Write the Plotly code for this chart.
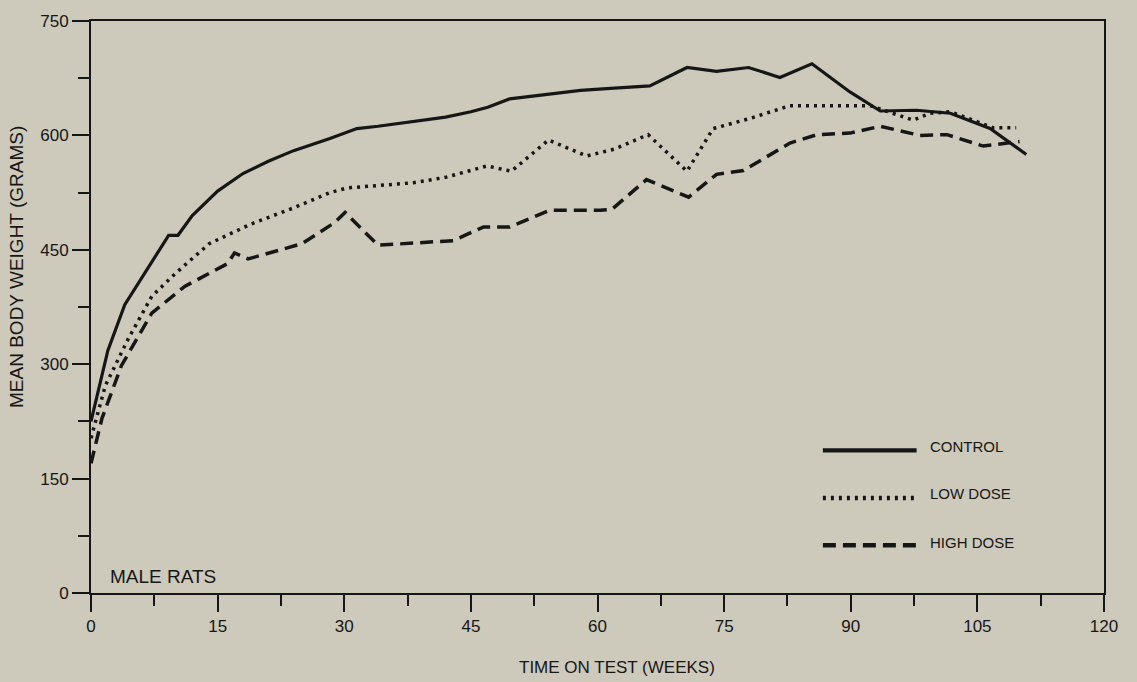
import plotly.graph_objects as go

# ---- data ----
control_weeks = [0, 2, 4, 6, 8, 9.2, 10.3, 12, 15, 18, 21, 24, 28.3, 31.5, 34, 38, 42, 45, 47, 49.6,
                 54, 58, 62, 66.2, 70.6, 74.1, 77.9, 81.6, 85.4, 89.9, 93.5, 97.8, 101.8, 106.5, 110.8]
control_vals = [225, 318, 378, 413, 447, 469, 469, 495, 527, 550, 566, 580, 596, 609, 612, 618, 624, 631, 637, 648,
                654, 659, 662, 665, 689, 684, 689, 676, 694, 657, 632, 633, 629, 609, 575]

low_weeks = [0, 1.7, 4.4, 7.2, 10, 14, 19, 24, 28.3, 30.3, 38.2, 42, 46.9, 49.8, 54.2, 58.7, 62, 66,
             70.6, 73.7, 78, 82.8, 89.9, 92.3, 97.4, 99.4, 101.8, 106.9, 109.6]
low_vals = [203, 272, 333, 389, 419, 458, 484, 505, 525, 531, 538, 545, 560, 553, 594, 573, 582, 601,
            553, 609, 622, 639, 639, 639, 620, 629, 631, 610, 610]

high_weeks = [0, 1.3, 3.6, 7.2, 11.1, 16.2, 17, 18.6, 25, 28.9, 30.1, 34, 42.9, 46.5, 49.6, 54.4, 60.3,
              61.7, 65.8, 70.8, 74.1, 77.3, 82.8, 86, 89.9, 93.5, 98.2, 101.4, 105.7, 107.3, 110]
high_vals = [170, 229, 298, 367, 402, 432, 446, 438, 458, 486, 499, 456, 462, 480, 480, 502, 502,
             503, 542, 519, 549, 554, 590, 601, 603, 612, 600, 601, 586, 588, 592]

series_names = ["CONTROL", "LOW DOSE", "HIGH DOSE"]
x_ticks = [0, 15, 30, 45, 60, 75, 90, 105, 120]
y_ticks = [0, 150, 300, 450, 600, 750]

# ---- styling ----
INK = "#161616"
BG = "#cdc9bb"
FONT = "Liberation Sans, Arial, Helvetica, sans-serif"
styles = [
    dict(width=3.2, dash="solid"),
    dict(width=3.5, dash="3px,5px"),
    dict(width=3.5, dash="13px,7px"),
]

fig = go.Figure()
for (xs, ys), name, st in zip([(control_weeks, control_vals), (low_weeks, low_vals), (high_weeks, high_vals)],
                              series_names, styles):
    fig.add_trace(go.Scatter(x=xs, y=ys, mode="lines", name=name, showlegend=False,
                             line=dict(color=INK, width=st["width"], dash=st["dash"], shape="linear")))

# legend drawn as keys + labels inside the plot
legend_y_line = [187, 124.5, 62.5]
legend_y_text = [192, 130, 66]
for name, st, yl, yt in zip(series_names, styles, legend_y_line, legend_y_text):
    fig.add_shape(type="line", xref="x", yref="y", x0=86.7, x1=97.8, y0=yl, y1=yl,
                  line=dict(color=INK, width=st["width"] + 1, dash=st["dash"]))
    fig.add_annotation(x=99.1, y=yt, xref="x", yref="y", text=name, showarrow=False,
                       xanchor="left", yanchor="middle", font=dict(family=FONT, size=15, color=INK))

fig.add_annotation(x=2.0, y=22, xref="x", yref="y", text="MALE RATS", showarrow=False,
                   xanchor="left", yanchor="middle", font=dict(family=FONT, size=19, color=INK))

# axis titles as annotations for exact placement
fig.add_annotation(x=(617 - 91) / 1013, y=-(668 - 593) / 579, xref="paper", yref="paper",
                   text="TIME ON TEST (WEEKS)", showarrow=False, xanchor="center", yanchor="middle",
                   font=dict(family=FONT, size=17, color=INK))
fig.add_annotation(x=-(91 - 17) / 1013, y=(593 - 263) / 579, xref="paper", yref="paper",
                   text="MEAN BODY WEIGHT (GRAMS)", showarrow=False, textangle=-90,
                   xanchor="center", yanchor="middle", font=dict(family=FONT, size=19, color=INK))

axis_common = dict(showgrid=False, zeroline=False, showline=True, linecolor=INK, linewidth=2,
                   mirror=True, ticks="outside", tickcolor=INK, tickwidth=2, ticklen=17,
                   tickfont=dict(family=FONT, size=17, color=INK))
fig.update_xaxes(range=[0, 120], tickvals=x_ticks, ticktext=[str(v) for v in x_ticks],
                 minor=dict(ticks="outside", dtick=7.5, tick0=0, ticklen=11, tickwidth=2, tickcolor=INK),
                 **axis_common)
fig.update_yaxes(range=[0, 750], tickvals=y_ticks, ticktext=[str(v) for v in y_ticks],
                 minor=dict(ticks="outside", dtick=75, tick0=0, ticklen=11, tickwidth=2, tickcolor=INK),
                 **axis_common)

fig.update_layout(width=1137, height=682, margin=dict(l=91, r=33, t=14, b=89),
                  paper_bgcolor=BG, plot_bgcolor=BG, showlegend=False,
                  font=dict(family=FONT, color=INK))

fig.write_html("out.html",
               config={"displayModeBar": False, "staticPlot": True},
               post_script="document.body.style.margin='0px';document.body.style.overflow='hidden';"
                           "document.body.style.background='%s';" % BG)
